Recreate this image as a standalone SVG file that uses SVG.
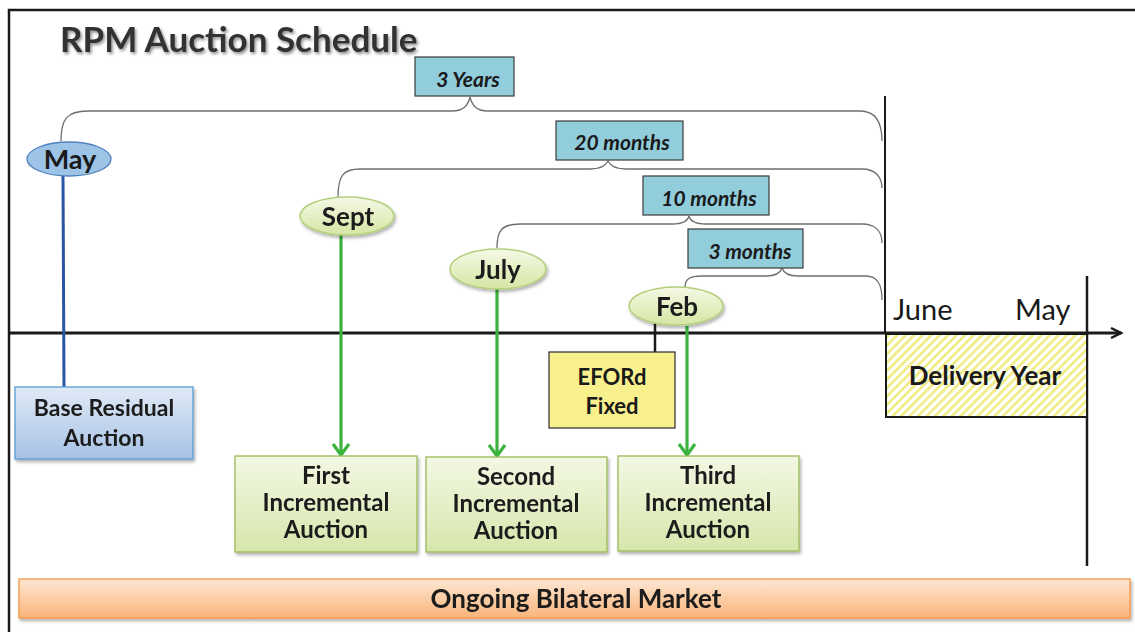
<svg xmlns="http://www.w3.org/2000/svg" width="1135" height="632" viewBox="0 0 1135 632">
<defs>
<style>
.t{font-family:Lato,"Liberation Sans",sans-serif;font-weight:bold;fill:#1a1a1a;text-anchor:middle}
.lab{font-family:Lato,"Liberation Sans",sans-serif;font-weight:bold;font-style:italic;fill:#1a1a1a;font-size:21px;text-anchor:middle}
.dur{fill:#92CDDC;stroke:#3a3a3a;stroke-width:1.2}
.brace{fill:none;stroke:#6e6e6e;stroke-width:1.3}
.ell{fill:url(#gEll);stroke:#B4CF7C;stroke-width:1.5}
.inc{fill:url(#gInc);stroke:#9BBB59;stroke-width:1.3}
.garrow{stroke:#3BB33E;stroke-width:3.2;fill:none}
.reg{font-family:Lato,"Liberation Sans",sans-serif;font-size:29px;fill:#1a1a1a}
</style>
<linearGradient id="gEll" x1="0" y1="0" x2="0" y2="1"><stop offset="0" stop-color="#F5F9E6"/><stop offset="1" stop-color="#D5E6A3"/></linearGradient>
<linearGradient id="gInc" x1="0" y1="0" x2="0" y2="1"><stop offset="0" stop-color="#F3F8E3"/><stop offset="1" stop-color="#D7E6AC"/></linearGradient>
<linearGradient id="gBlue" x1="0" y1="0" x2="0" y2="1"><stop offset="0" stop-color="#E0EAF6"/><stop offset="1" stop-color="#A7C2E5"/></linearGradient>
<linearGradient id="gOr" x1="0" y1="0" x2="0" y2="1"><stop offset="0" stop-color="#FDE6D2"/><stop offset="1" stop-color="#FAB57A"/></linearGradient>
<pattern id="hatch" width="6" height="6" patternUnits="userSpaceOnUse" patternTransform="rotate(45)">
<rect width="6" height="6" fill="#ffffff"/>
<rect width="2.8" height="6" fill="#F1EC86"/>
</pattern>
<filter id="sh" x="-10%" y="-10%" width="130%" height="140%"><feDropShadow dx="1.5" dy="2.5" stdDeviation="1.5" flood-color="#000" flood-opacity="0.3"/></filter>
<filter id="tsh" x="-5%" y="-20%" width="110%" height="150%"><feDropShadow dx="1.5" dy="2" stdDeviation="1.5" flood-color="#000" flood-opacity="0.45"/></filter>
<marker id="ga" viewBox="0 0 20 20" refX="17" refY="10" markerWidth="20" markerHeight="20" markerUnits="userSpaceOnUse" orient="auto">
<path d="M6,2 L17,10 L6,18" fill="none" stroke="#3BB33E" stroke-width="3.2"/>
</marker>
<marker id="ka" viewBox="0 0 16 16" refX="14" refY="8" markerWidth="16" markerHeight="16" markerUnits="userSpaceOnUse" orient="auto">
<path d="M4,3 L14,8 L4,13" fill="none" stroke="#1a1a1a" stroke-width="2.5"/>
</marker>
</defs>
<rect width="1135" height="632" fill="#ffffff"/>
<!-- frame -->
<path d="M9,632 L9,10 L1135,10" fill="none" stroke="#1a1a1a" stroke-width="2.5"/>
<text x="60" y="52" font-family="Lato,'Liberation Sans',sans-serif" font-weight="bold" font-size="35" fill="#333333" filter="url(#tsh)">RPM Auction Schedule</text>

<g id="connectors">
<!-- braces -->
<path class="brace" d="M61,141 C61,120 66,111 88,111 L452,111 C464,111 468,105 470,97 C472,105 476,111 488,111 L860,111 C876,111 882,122 882,141"/>
<path class="brace" d="M338,197 C338,176 343,169 360,169 L590,169 C602,169 606,165 608,161 C610,165 614,169 626,169 L862,169 C876,169 882,178 882,188"/>
<path class="brace" d="M497,248 C497,230 502,224 520,224 L672,224 C684,224 688,220 689,216 C690,220 694,224 706,224 L862,224 C876,224 882,232 882,243"/>
<path class="brace" d="M685,287 C685,279 690,276 702,276 L766,276 C778,276 781,271 782,268 C783,271 786,276 798,276 L866,276 C878,276 882,285 882,300"/>
<!-- delivery year start line -->
<path d="M885,96 L885,333" stroke="#1a1a1a" stroke-width="2"/>
<!-- delivery year end line -->
<path d="M1087,276 L1087,566" stroke="#1a1a1a" stroke-width="2.5"/>
<!-- axis -->
<path d="M9,333 L1121,333" stroke="#1a1a1a" stroke-width="3.2" marker-end="url(#ka)"/>
<!-- May to BRA -->
<path d="M63,176 L64,387" stroke="#2A54A4" stroke-width="3"/>
<!-- green arrows -->
<path class="garrow" d="M341,235 L341,455" marker-end="url(#ga)"/>
<path class="garrow" d="M497,289 L497,456" marker-end="url(#ga)"/>
<path class="garrow" d="M687,326 L687,455" marker-end="url(#ga)"/>
<!-- EFORd connector -->
<path d="M655,320 L655,352" stroke="#1a1a1a" stroke-width="2.5"/>
</g>

<g id="dur3y"><rect class="dur" x="415" y="57" width="99" height="39"/><text class="lab" x="468" y="87">3 Years</text></g>
<g id="dur20m"><rect class="dur" x="556" y="121" width="127" height="39"/><text class="lab" x="622" y="150">20 months</text></g>
<g id="dur10m"><rect class="dur" x="643" y="176" width="126" height="39"/><text class="lab" x="709" y="206">10 months</text></g>
<g id="dur3m"><rect class="dur" x="688" y="229" width="115" height="39"/><text class="lab" x="750" y="259">3 months</text></g>

<g id="may"><ellipse cx="69" cy="159" rx="42" ry="17" fill="#9DC3E6" stroke="#4F81BD" stroke-width="1.3"/><text class="t" x="70" y="169" font-size="27">May</text></g>
<g id="sept" filter="url(#sh)"><ellipse class="ell" cx="347" cy="216" rx="47" ry="19"/><text class="t" x="348" y="226" font-size="26">Sept</text></g>
<g id="july" filter="url(#sh)"><ellipse class="ell" cx="498" cy="269" rx="48" ry="20"/><text class="t" x="498" y="279" font-size="26">July</text></g>
<g id="feb" filter="url(#sh)"><ellipse class="ell" cx="676" cy="306" rx="47" ry="19"/><text class="t" x="677" y="316" font-size="26">Feb</text></g>

<g id="bra" filter="url(#sh)"><rect x="15" y="387" width="178" height="72" fill="url(#gBlue)" stroke="#5B9BD5" stroke-width="1.3"/><text class="t" x="104" y="416" font-size="23">Base Residual</text><text class="t" x="104" y="446" font-size="23">Auction</text></g>

<g id="eford"><rect x="549" y="352" width="126" height="76" fill="#F7F08C" stroke="#3a3a3a" stroke-width="1.3"/><text class="t" x="612" y="385" font-size="22">EFORd</text><text class="t" x="612" y="414" font-size="22">Fixed</text></g>

<g id="delivery"><rect x="886" y="334" width="201" height="83" fill="url(#hatch)" stroke="#1a1a1a" stroke-width="2"/><text class="t" x="985" y="385" font-size="26">Delivery Year</text></g>
<g id="june"><text class="reg" x="893" y="320">June</text></g>
<g id="mayend"><text class="reg" x="1015" y="320">May</text></g>

<g id="inc1" filter="url(#sh)"><rect class="inc" x="235" y="456" width="182" height="96"/><text class="t" x="326" y="484" font-size="24">First</text><text class="t" x="326" y="511" font-size="24">Incremental</text><text class="t" x="326" y="538" font-size="24">Auction</text></g>
<g id="inc2" filter="url(#sh)"><rect class="inc" x="426" y="457" width="181" height="95"/><text class="t" x="516" y="485" font-size="24">Second</text><text class="t" x="516" y="512" font-size="24">Incremental</text><text class="t" x="516" y="539" font-size="24">Auction</text></g>
<g id="inc3" filter="url(#sh)"><rect class="inc" x="618" y="456" width="181" height="95"/><text class="t" x="708" y="484" font-size="24">Third</text><text class="t" x="708" y="511" font-size="24">Incremental</text><text class="t" x="708" y="538" font-size="24">Auction</text></g>

<g id="bilateral" filter="url(#sh)"><rect x="19" y="579" width="1111" height="39" fill="url(#gOr)" stroke="#F79646" stroke-width="1.3"/><text class="t" x="576" y="608" font-size="26">Ongoing Bilateral Market</text></g>
</svg>
